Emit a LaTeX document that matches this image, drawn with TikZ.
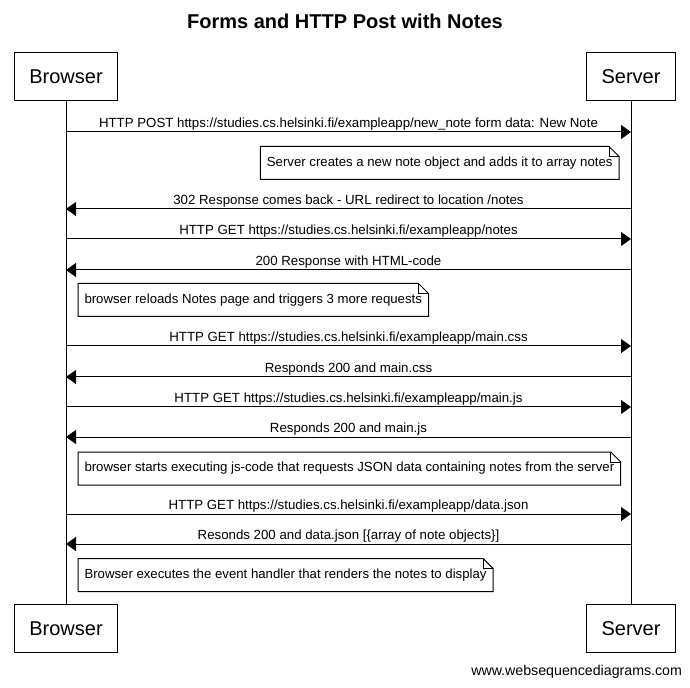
\documentclass[tikz,border=0pt]{standalone}
\usepackage{fontspec}
\setmainfont{Liberation Sans}
\usetikzlibrary{arrows.meta}

\tikzset{
    actor/.style={draw,line width=0.75pt,minimum height=36pt,inner xsep=11.25pt,font=\fontsize{15pt}{18pt}\selectfont},
    msg/.style={line width=0.75pt,-{Triangle[length=7.5pt,width=10.5pt]}},
    lbl/.style={above,inner sep=0.6pt,font=\fontsize{9.95pt}{11pt}\selectfont},
    notetext/.style={inner xsep=4.5pt,minimum height=24pt,font=\fontsize{9.9pt}{11pt}\selectfont},
}

\begin{document}
\begin{tikzpicture}
		[x=0.75pt,y=-0.75pt,line width=0.75pt]

        \useasboundingbox (0,0) rectangle (690,688);

        \node[font=\fontsize{15pt}{18pt}\selectfont\bfseries] (title) at (345,21) {Forms and HTTP Post with Notes};

        \node[actor] (BrowserTop) at (66,77) {Browser};
        \node[actor] (ServerTop) at (631,77) {Server};
        \node[actor] (BrowserBot) at (66,628.5) {Browser};
        \node[actor] (ServerBot) at (631,628.5) {Server};

        \draw (BrowserTop) -- (BrowserBot);
        \draw (ServerTop) -- (ServerBot);

        \foreach \i/\y in {1/132,2/209,3/239,4/270,5/346,6/377,7/407,8/437,9/514,10/544} {
            \coordinate (B\i) at (BrowserTop |- 0,\y);
            \coordinate (S\i) at (ServerTop |- 0,\y);
        }

		\draw[msg] (B1) -- node[lbl] {HTTP POST https://studies.cs.helsinki.fi/exampleapp/new\_note form data: New Note} (S1);
		\draw[msg] (S2) -- node[lbl] {302 Response comes back - URL redirect to location /notes} (B2);
		\draw[msg] (B3) -- node[lbl] {HTTP GET https://studies.cs.helsinki.fi/exampleapp/notes} (S3);
		\draw[msg] (S4) -- node[lbl] {200 Response with HTML-code} (B4);
		\draw[msg] (B5) -- node[lbl] {HTTP GET https://studies.cs.helsinki.fi/exampleapp/main.css} (S5);
		\draw[msg] (S6) -- node[lbl] {Responds 200 and main.css} (B6);
		\draw[msg] (B7) -- node[lbl] {HTTP GET https://studies.cs.helsinki.fi/exampleapp/main.js} (S7);
		\draw[msg] (S8) -- node[lbl] {Responds 200 and main.js} (B8);
		\draw[msg] (B9) -- node[lbl] {HTTP GET https://studies.cs.helsinki.fi/exampleapp/data.json} (S9);
		\draw[msg] (S10) -- node[lbl] {Resonds 200 and data.json [\{array of note objects\}]} (B10);

        % notes
        \node[notetext,anchor=east] (N1) at (619,163) {Server creates a new note object and adds it to array notes};
        \node[notetext,anchor=west] (N2) at (78,300) {browser reloads Notes page and triggers 3 more requests};
        \node[notetext,anchor=west] (N3) at (78,468.5) {browser starts executing js-code that requests JSON data containing notes from the server};
        \node[notetext,anchor=west] (N4) at (78,575) {Browser executes the event handler that renders the notes to display};

        \foreach \n in {N1,N2,N3,N4} {
            \draw (\n.north west) -- ([xshift=-7.5pt]\n.north east) -- ([yshift=-7.5pt]\n.north east) -- (\n.south east) -- (\n.south west) -- cycle;
            \draw ([xshift=-7.5pt]\n.north east) |- ([yshift=-7.5pt]\n.north east);
        }

        \node[anchor=east,inner sep=0pt,font=\fontsize{10.65pt}{12pt}\selectfont] (footer) at (682.5,672) {www.websequencediagrams.com};

    \end{tikzpicture}
\end{document}
